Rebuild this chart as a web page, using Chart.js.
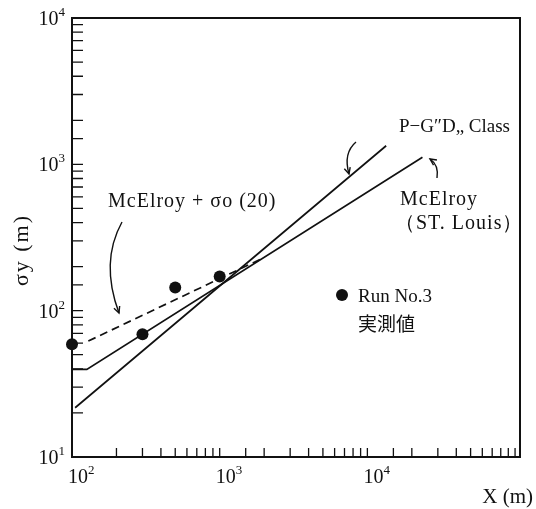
<!DOCTYPE html>
<html>
<head>
<meta charset="utf-8">
<script src="https://cdn.jsdelivr.net/npm/chart.js@4.4.1/dist/chart.umd.min.js"></script>
<style>
  html, body { margin: 0; padding: 0; background: #fff; }
  #wrap { width: 536px; height: 509px; }
</style>
</head>
<body>
<div id="wrap"><canvas id="sigmaChart"></canvas></div>
<script>
// Run No.3 実測値  (X [m], σy [m])
const runX = [100, 300, 500, 1000];
const runY = [59, 69, 144, 171];

// McElroy + σo(20)
const mcSigmaX = [129, 1950];
const mcSigmaY = [62, 228];

// McElroy (ST. Louis)
const mcElroyX = [100, 126, 23600];
const mcElroyY = [39.7, 39.7, 1117];

// P-G "D" class
const pgDX = [105, 13400];
const pgDY = [21.7, 1340];

// decades that get a 10^n label
const xDecades = [2, 3, 4];
const yDecades = [1, 2, 3, 4];

const SERIF = '"Liberation Serif", "DejaVu Serif", serif';
const CJK = '"Noto Sans CJK JP", sans-serif';

const toPoints = (xs, ys) => xs.map((x, i) => ({ x: x, y: ys[i] }));

function powerLabel(ctx, exp, x, y, align) {
    // "10" with a raised exponent; x is the anchor, y the baseline
    ctx.font = '20px ' + SERIF;
    const base = ctx.measureText('10').width;
    ctx.font = '13px ' + SERIF;
    const sup = ctx.measureText(String(exp)).width;
    let left = x;
    if (align === 'right') left = x - base - sup;
    if (align === 'center') left = x - base / 2;
    ctx.textAlign = 'left';
    ctx.textBaseline = 'alphabetic';
    ctx.font = '20px ' + SERIF;
    ctx.fillText('10', left, y);
    ctx.font = '13px ' + SERIF;
    ctx.fillText(String(exp), left + base, y - 9);
}

function curvedArrow(ctx, p0, cp, p1) {
    ctx.beginPath();
    ctx.moveTo(p0[0], p0[1]);
    ctx.quadraticCurveTo(cp[0], cp[1], p1[0], p1[1]);
    ctx.stroke();
    const ang = Math.atan2(p1[1] - cp[1], p1[0] - cp[0]);
    const len = 7;
    ctx.beginPath();
    ctx.moveTo(p1[0] - len * Math.cos(ang - 0.45), p1[1] - len * Math.sin(ang - 0.45));
    ctx.lineTo(p1[0], p1[1]);
    ctx.lineTo(p1[0] - len * Math.cos(ang + 0.45), p1[1] - len * Math.sin(ang + 0.45));
    ctx.stroke();
}

// frame, inward ticks, 10^n labels, axis titles and notes
const logFrame = {
    id: 'logFrame',
    afterDraw(chart) {
        const { ctx, chartArea: a, scales: { x, y } } = chart;
        ctx.save();
        ctx.strokeStyle = '#111';
        ctx.fillStyle = '#111';
        ctx.lineWidth = 2;
        ctx.strokeRect(a.left, a.top, a.right - a.left, a.bottom - a.top);

        ctx.lineWidth = 1.3;
        ctx.beginPath();
        x.ticks.forEach(t => {
            const px = x.getPixelForValue(t.value);
            if (px <= a.left + 1 || px >= a.right - 2) return;
            ctx.moveTo(px, a.bottom);
            ctx.lineTo(px, a.bottom - 9);
        });
        y.ticks.forEach(t => {
            const py = y.getPixelForValue(t.value);
            if (py <= a.top + 1 || py >= a.bottom - 1) return;
            ctx.moveTo(a.left, py);
            ctx.lineTo(a.left + 11, py);
        });
        ctx.stroke();

        xDecades.forEach(n => {
            const px = x.getPixelForValue(Math.pow(10, n));
            powerLabel(ctx, n, px + 6, a.bottom + 26, 'center');
        });
        yDecades.forEach(n => {
            const py = y.getPixelForValue(Math.pow(10, n));
            powerLabel(ctx, n, a.left - 7, py + 7, 'right');
        });

        // axis titles
        ctx.font = '21px ' + SERIF;
        ctx.textAlign = 'right';
        ctx.fillText('X (m)', 533, 503);
        ctx.save();
        ctx.translate(28, 250);
        ctx.rotate(-Math.PI / 2);
        ctx.textAlign = 'center';
        ctx.letterSpacing = '2px';
        ctx.font = '22px ' + SERIF;
        ctx.fillText('σy (m)', 0, 0);
        ctx.restore();

        // curve notes
        ctx.textAlign = 'left';
        ctx.letterSpacing = '1px';
        ctx.font = '20px ' + SERIF;
        ctx.fillText('McElroy + σo (20)', 108, 207);
        ctx.fillText('McElroy', 400, 205);
        ctx.fillText('（ST. Louis）', 395, 229);
        ctx.letterSpacing = '0px';
        ctx.font = '19px ' + SERIF;
        ctx.fillText('P−G″D„ Class', 399, 132);

        ctx.lineWidth = 1.4;
        curvedArrow(ctx, [122, 222], [100, 262], [119, 313]);
        curvedArrow(ctx, [356, 142], [343, 153], [349, 174]);
        curvedArrow(ctx, [437, 178], [439, 165], [430, 159]);

        // legend for the measured points
        ctx.beginPath();
        ctx.arc(342, 295, 6, 0, Math.PI * 2);
        ctx.fill();
        ctx.font = '19px ' + SERIF;
        ctx.fillText('Run No.3', 358, 302);
        ctx.font = '19px ' + CJK;
        ctx.fillText('実測値', 358, 331);
        ctx.restore();
    }
};

const lineStyle = {
    showLine: true,
    borderColor: '#111',
    borderWidth: 1.7,
    pointRadius: 0,
    fill: false
};

new Chart(document.getElementById('sigmaChart'), {
    type: 'scatter',
    data: {
        datasets: [
            Object.assign({ label: 'McElroy + σo(20)', data: toPoints(mcSigmaX, mcSigmaY), borderDash: [8, 5] }, lineStyle),
            Object.assign({ label: 'McElroy (ST. Louis)', data: toPoints(mcElroyX, mcElroyY) }, lineStyle),
            Object.assign({ label: 'P-G D Class', data: toPoints(pgDX, pgDY) }, lineStyle),
            {
                label: 'Run No.3',
                data: toPoints(runX, runY),
                pointRadius: 6,
                pointBackgroundColor: '#111',
                pointBorderWidth: 0,
                showLine: false,
                clip: false
            }
        ]
    },
    options: {
        responsive: true,
        maintainAspectRatio: false,
        animation: false,
        layout: { padding: { left: 72, top: 18, right: 16, bottom: 52 } },
        plugins: { legend: { display: false }, tooltip: { enabled: false } },
        scales: {
            x: {
                type: 'logarithmic',
                min: 100,
                max: 108000,
                grid: { display: false, drawTicks: false },
                border: { display: false },
                ticks: { display: false }
            },
            y: {
                type: 'logarithmic',
                min: 10,
                max: 10000,
                grid: { display: false, drawTicks: false },
                border: { display: false },
                ticks: { display: false }
            }
        }
    },
    plugins: [logFrame]
});
</script>
</body>
</html>
